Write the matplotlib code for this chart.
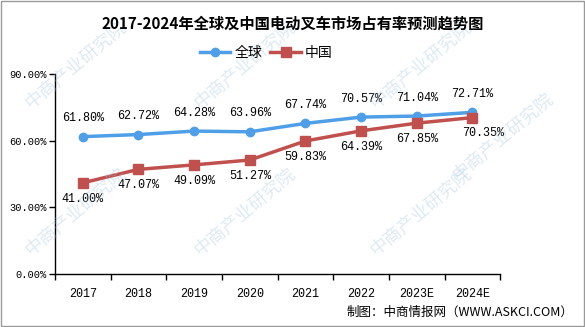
import matplotlib.pyplot as plt
from matplotlib.ticker import FixedLocator, FuncFormatter

plt.rcParams['font.family'] = ['Noto Sans CJK SC', 'DejaVu Sans']

years = ['2017', '2018', '2019', '2020', '2021', '2022', '2023E', '2024E']
world = [61.80, 62.72, 64.28, 63.96, 67.74, 70.57, 71.04, 72.71]
china = [41.00, 47.07, 49.09, 51.27, 59.83, 64.39, 67.85, 70.35]

blue = '#4f9fe8'
red = '#c0504d'
numfont = 'Liberation Mono'

fig = plt.figure(figsize=(5.85, 3.27), dpi=100)
ax = fig.add_axes([0.094, 0.162, 0.761, 0.612])

x = list(range(len(years)))
ax.plot(x, world, color=blue, lw=2.5, marker='o', ms=6, label='全球', zorder=3)
ax.plot(x, china, color=red, lw=2.5, marker='s', ms=7, label='中国', zorder=3)

for i, v in enumerate(world):
    ax.annotate(f'{v:.2f}%', (i, v), xytext=(0, 9), textcoords='offset points',
                ha='center', va='bottom', fontsize=8.5, family=numfont)
for i, v in enumerate(china):
    dx = 8 if i == len(china) - 1 else 0
    ax.annotate(f'{v:.2f}%', (i, v), xytext=(dx, -7), textcoords='offset points',
                ha='center', va='top', fontsize=8.5, family=numfont)

ax.set_xlim(-0.5, len(years) - 0.5)
ax.set_ylim(0, 90)
ax.set_yticks([0, 30, 60, 90])
ax.yaxis.set_major_formatter(FuncFormatter(lambda v, p: f'{v:.2f}%'))
ax.xaxis.set_major_locator(FixedLocator([i - 0.5 for i in range(len(years) + 1)]))
ax.xaxis.set_major_formatter(FuncFormatter(lambda v, p: ''))
ax.xaxis.set_minor_locator(FixedLocator(x))
ax.set_xticklabels(years, minor=True)
ax.tick_params(axis='x', which='minor', length=0, pad=10)
ax.tick_params(axis='y', which='major', pad=2)
ax.tick_params(axis='both', which='major', length=4, width=1, color='black')
for lab in ax.get_yticklabels():
    lab.set_family(numfont)
    lab.set_fontsize(7.5)
for lab in ax.get_xticklabels(minor=True):
    lab.set_family(numfont)
    lab.set_fontsize(8.5)
ax.spines['top'].set_visible(False)
ax.spines['right'].set_visible(False)
for s in ['left', 'bottom']:
    ax.spines[s].set_linewidth(1)

fig.text(0.5, 0.927, '2017-2024年全球及中国电动叉车市场占有率预测趋势图',
         ha='center', va='center', fontsize=11, fontweight='bold')
fig.legend(loc='center', bbox_to_anchor=(0.455, 0.838), ncol=2, frameon=False,
           fontsize=10, handlelength=2.2, columnspacing=0.6, handletextpad=0.3)
fig.text(0.98, 0.045, '制图：中商情报网（WWW.ASKCI.COM）', ha='right', va='center',
         fontsize=9)

# faint watermarks
for wx, wy in [(0.13, 0.8), (0.42, 0.8), (0.72, 0.8), (0.13, 0.35), (0.42, 0.35),
               (0.72, 0.35), (0.86, 0.58)]:
    fig.text(wx, wy, '中商产业研究院', rotation=40, fontsize=13, color='#9ec3de',
             alpha=0.35, ha='center', va='center', zorder=0)

fig.patches.append(plt.Rectangle((0.002, 0.003), 0.996, 0.994, transform=fig.transFigure,
                                 fill=False, edgecolor='#999999', lw=1))

fig.savefig('out.png', dpi=100)
